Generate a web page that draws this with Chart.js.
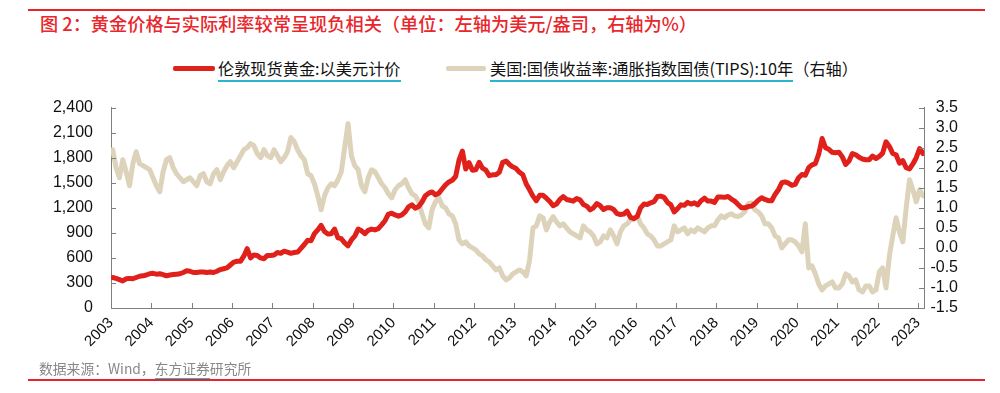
<!DOCTYPE html>
<html>
<head>
<meta charset="utf-8">
<script src="https://cdn.jsdelivr.net/npm/chart.js@4"></script>
<style>
  body { margin: 0; background: #fff; }
  #page { position: relative; width: 1000px; height: 393px; overflow: hidden; font-family: "Noto Sans CJK SC", sans-serif; }
  .rule { position: absolute; left: 28px; width: 957px; height: 2px; background: #e8232a; }
  #title { position: absolute; left: 40px; top: 10px; font-size: 18.2px; color: #e8262b; font-weight: 500; white-space: nowrap; }
  #legend { position: absolute; top: 56px; left: 0; width: 1000px; height: 24px; font-size: 16.2px; color: #111; }
  .lg-line { position: absolute; top: 10px; height: 5px; border-radius: 2px; }
  .lg-text { position: absolute; top: 0; white-space: nowrap; }
  .ul { border-bottom: 2px solid #2bb4cf; }
  #source { position: absolute; left: 39px; top: 358px; font-size: 13.8px; color: #888; white-space: nowrap; }
  #chartBox { position: absolute; left: 0; top: 80px; width: 1000px; height: 280px; }
  #chartBox canvas { display: block; }
</style>
</head>
<body>
<div id="page">
  <div class="rule" style="top:9px"></div>
  <div id="title">图 2：黄金价格与实际利率较常呈现负相关（单位：左轴为美元/盎司，右轴为%）</div>
  <div id="legend">
    <div class="lg-line" style="left:173px;width:42px;background:#e0201b"></div>
    <div class="lg-text" style="left:218px"><span class="ul">伦敦现货黄金:以美元计价</span></div>
    <div class="lg-line" style="left:446px;width:40px;background:#ddd3bb"></div>
    <div class="lg-text" style="left:490px"><span class="ul">美国:国债收益率:通胀指数国债(TIPS):10年</span>（右轴）</div>
  </div>
  <div id="chartBox"><canvas id="resultPlot" width="1000" height="280"></canvas></div>
  <div id="source">数据来源：Wind，<span class="ul">东方证券</span>研究所</div>
  <div class="rule" style="top:379px"></div>
</div>

<script>
// monthly values, Jan 2003 .. Feb 2023
const startYear = 2003;

const goldLabel = '伦敦现货黄金:以美元计价';
const goldPrice = [
  365, 355, 340, 325, 350, 355, 350, 365, 380, 385, 395, 410,
  415, 405, 410, 400, 385, 395, 400, 405, 410, 425, 445, 440,
  425, 425, 430, 430, 425, 430, 425, 440, 460, 470, 480, 515,
  550, 560, 560, 620, 710, 600, 635, 630, 600, 590, 630, 630,
  635, 665, 655, 680, 670, 655, 665, 670, 715, 760, 810, 805,
  890, 935, 990, 915, 885, 890, 945, 840, 830, 780, 745, 815,
  860, 945, 925, 890, 930, 945, 935, 950, 995, 1045, 1125, 1135,
  1115, 1100, 1115, 1150, 1210, 1235, 1195, 1215, 1270, 1345, 1375, 1390,
  1355, 1375, 1425, 1475, 1510, 1530, 1575, 1770, 1880, 1665, 1740, 1650,
  1655, 1745, 1675, 1650, 1585, 1595, 1595, 1625, 1745, 1760, 1720, 1690,
  1670, 1625, 1595, 1485, 1415, 1340, 1285, 1350, 1350, 1315, 1275, 1225,
  1245, 1300, 1335, 1300, 1290, 1280, 1310, 1295, 1240, 1220, 1175, 1200,
  1250, 1225, 1180, 1200, 1200, 1180, 1130, 1120, 1125, 1160, 1085, 1070,
  1095, 1200, 1245, 1240, 1260, 1275, 1335, 1340, 1325, 1265, 1235, 1150,
  1190, 1235, 1230, 1265, 1245, 1260, 1235, 1285, 1315, 1280, 1280, 1265,
  1330, 1330, 1325, 1335, 1305, 1280, 1240, 1200, 1200, 1215, 1220, 1250,
  1290, 1320, 1300, 1285, 1285, 1360, 1415, 1500, 1510, 1495, 1470, 1480,
  1560, 1600, 1590, 1680, 1715, 1730, 1845, 2030, 1920, 1900, 1865, 1860,
  1865, 1810, 1720, 1760, 1850, 1835, 1805, 1785, 1775, 1775, 1820, 1790,
  1815, 1855, 1990, 1935, 1850, 1835, 1735, 1765, 1680, 1665, 1725, 1800,
  1910, 1850
];

const tipsLabel = '美国:国债收益率:通胀指数国债(TIPS):10年（右轴）';
const tipsYield = [
  2.45, 2.0, 1.75, 2.2, 1.9, 1.55, 2.1, 2.4, 2.1, 2.05, 2.0, 1.95,
  1.75, 1.55, 1.4, 1.9, 2.2, 2.25, 2.0, 1.85, 1.75, 1.65, 1.7, 1.75,
  1.65, 1.55, 1.8, 1.85, 1.65, 1.6, 1.85, 1.95, 1.7, 1.9, 2.05, 2.15,
  2.0, 2.15, 2.3, 2.45, 2.5, 2.6, 2.55, 2.35, 2.25, 2.45, 2.3, 2.25,
  2.45, 2.3, 2.15, 2.25, 2.4, 2.75, 2.65, 2.45, 2.3, 2.2, 1.85, 1.8,
  1.6, 1.3, 0.95, 1.3, 1.5, 1.6, 1.55, 1.7, 1.9, 2.5, 3.1, 2.3,
  2.05, 1.95, 1.55, 1.4, 1.75, 1.95, 1.9, 1.75, 1.6, 1.5, 1.35, 1.25,
  1.45, 1.55, 1.6, 1.7, 1.5, 1.35, 1.3, 1.15, 0.85, 0.6, 0.5, 0.95,
  1.15, 1.25, 1.05, 1.0, 0.85, 0.8, 0.6, 0.2, 0.1, 0.15, 0.05, 0.0,
  -0.05, -0.15, -0.2, -0.3, -0.35, -0.45, -0.55, -0.5, -0.7, -0.8, -0.75, -0.65,
  -0.6, -0.55, -0.6, -0.7, -0.3, 0.5, 0.55, 0.8, 0.75, 0.45, 0.65, 0.78,
  0.65, 0.55, 0.6, 0.5, 0.4, 0.35, 0.3, 0.25, 0.55, 0.45, 0.4, 0.3,
  0.1, 0.15, 0.3, 0.25, 0.45, 0.3, 0.1, 0.4, 0.55, 0.6, 0.7, 0.72,
  0.8, 0.6, 0.5, 0.35, 0.3, 0.2, 0.05, 0.05, 0.1, 0.15, 0.2, 0.55,
  0.4, 0.45, 0.5, 0.35, 0.45, 0.4, 0.5, 0.45, 0.4, 0.5, 0.55, 0.55,
  0.7, 0.8, 0.75, 0.82, 0.85, 0.8, 0.78, 0.82, 0.9, 1.1, 1.12, 0.95,
  0.9, 0.8, 0.6, 0.6, 0.5, 0.3, 0.25, 0.0, 0.1, 0.2, 0.2, 0.15,
  0.05, -0.1, 0.6, -0.5, -0.45, -0.65, -0.9, -1.05, -0.95, -0.9, -0.85, -1.0,
  -1.0, -0.9, -0.65, -0.7, -0.85, -0.8, -1.05, -1.1, -0.95, -0.95, -1.1, -1.05,
  -0.6, -0.5, -1.0, -0.2, 0.3, 0.75, 0.4, 0.15, 1.0, 1.7, 1.45, 1.15,
  1.45, 1.3
];

const xMin = 2003, xMax = 2023.15;
const leftMin = 0, leftMax = 2400, leftStep = 300;
const rightMin = -1.5, rightMax = 3.5, rightStep = 0.5;

/**
 * month index -> decimal year (middle of the month)
 */
function monthToYear(i){
    return startYear + (i + 0.5) / 12;
}

function toPoints(values){
    let pts = [];
    for (let i = 0; i < values.length; i++){
        pts.push({x: monthToYear(i), y: values[i]});
    }
    return pts;
}

/**
 * small tick marks pointing into the plot area
 */
const innerTicks = {
    id: 'innerTicks',
    afterDraw(chart){
        let ctx = chart.ctx;
        let area = chart.chartArea;
        ctx.save();
        ctx.strokeStyle = '#808080';
        ctx.lineWidth = 1;
        ctx.beginPath();
        chart.scales.x.ticks.forEach(function(t){
            let px = Math.round(chart.scales.x.getPixelForValue(t.value)) + 0.5;
            ctx.moveTo(px, area.bottom);
            ctx.lineTo(px, area.bottom - 5);
        });
        chart.scales.yL.ticks.forEach(function(t){
            let py = Math.round(chart.scales.yL.getPixelForValue(t.value)) + 0.5;
            ctx.moveTo(area.left, py);
            ctx.lineTo(area.left + 5, py);
        });
        chart.scales.yR.ticks.forEach(function(t){
            let py = Math.round(chart.scales.yR.getPixelForValue(t.value)) + 0.5;
            ctx.moveTo(area.right, py);
            ctx.lineTo(area.right - 5, py);
        });
        ctx.stroke();
        ctx.restore();
    }
};

function draw(){
    let plotArea = document.getElementById('resultPlot');
    let tickFont = {family: '"Liberation Sans", Arial, sans-serif', size: 16};
    let axisGrid = {display: true, drawOnChartArea: false, drawTicks: false};
    let axisBorder = {display: true, color: '#808080', width: 1};

    new Chart(plotArea, {
        type: 'line',
        data: {
            datasets: [
                {
                    label: goldLabel,
                    data: toPoints(goldPrice),
                    yAxisID: 'yL',
                    borderColor: '#e0201b',
                    borderWidth: 5,
                    pointRadius: 0,
                    tension: 0,
                    borderJoinStyle: 'round',
                    borderCapStyle: 'round'
                },
                {
                    label: tipsLabel,
                    data: toPoints(tipsYield),
                    yAxisID: 'yR',
                    borderColor: '#ddd3bb',
                    borderWidth: 5,
                    pointRadius: 0,
                    tension: 0,
                    borderJoinStyle: 'round',
                    borderCapStyle: 'round'
                }
            ]
        },
        options: {
            responsive: false,
            animation: false,
            devicePixelRatio: 1,
            layout: {padding: {top: 10, right: 42, left: 0, bottom: 0}},
            plugins: {legend: {display: false}, tooltip: {enabled: false}},
            scales: {
                x: {
                    type: 'linear',
                    min: xMin,
                    max: xMax,
                    grid: axisGrid,
                    border: axisBorder,
                    afterBuildTicks: function(scale){
                        let ticks = [];
                        for (let y = 2003; y <= 2023; y++){ ticks.push({value: y}); }
                        scale.ticks = ticks;
                    },
                    afterFit: function(scale){ scale.height = 52; },
                    ticks: {
                        autoSkip: false,
                        minRotation: 45,
                        maxRotation: 45,
                        padding: 6,
                        color: '#111',
                        font: {family: '"Liberation Sans", Arial, sans-serif', size: 15},
                        callback: function(v){ return String(Math.round(v)); }
                    }
                },
                yL: {
                    position: 'left',
                    min: leftMin,
                    max: leftMax,
                    grid: axisGrid,
                    border: axisBorder,
                    afterFit: function(scale){ scale.width = 111; },
                    ticks: {
                        stepSize: leftStep,
                        autoSkip: false,
                        padding: 18,
                        color: '#111',
                        font: tickFont,
                        callback: function(v){ return v.toLocaleString('en-US'); }
                    }
                },
                yR: {
                    position: 'right',
                    min: rightMin,
                    max: rightMax,
                    grid: axisGrid,
                    border: axisBorder,
                    afterFit: function(scale){ scale.width = 34; },
                    ticks: {
                        stepSize: rightStep,
                        autoSkip: false,
                        padding: 10,
                        crossAlign: 'far',
                        color: '#111',
                        font: tickFont,
                        callback: function(v){ return v.toFixed(1); }
                    }
                }
            }
        },
        plugins: [innerTicks]
    });
}

draw();
</script>
</body>
</html>
